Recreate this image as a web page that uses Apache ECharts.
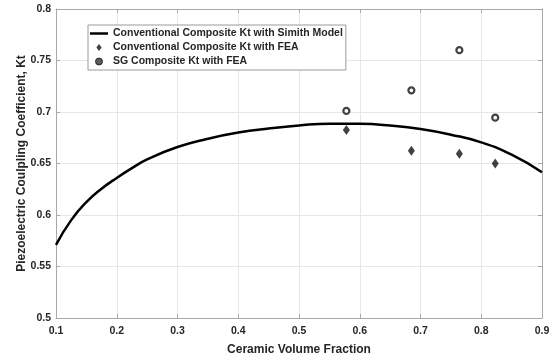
<!DOCTYPE html>
<html>
<head>
<meta charset="utf-8">
<script src="https://cdn.jsdelivr.net/npm/echarts@6/dist/echarts.min.js"></script>
<style>
  html, body { margin: 0; padding: 0; background: #fff; }
  #chart { width: 557px; height: 362px; }
</style>
</head>
<body>
<div id="chart"></div>
<script>
// Smith model curve
const fraction = [0.1, 0.125, 0.15, 0.175, 0.2, 0.225, 0.25, 0.3, 0.35, 0.4, 0.45, 0.5, 0.55, 0.6, 0.65, 0.7, 0.75, 0.8, 0.85, 0.9];
const smithKt = [0.571, 0.595, 0.6125, 0.6255, 0.636, 0.6455, 0.654, 0.666, 0.674, 0.680, 0.684, 0.687, 0.6887, 0.6885, 0.6868, 0.6835, 0.678, 0.6705, 0.6585, 0.6415];

// FEA points
const feaFraction = [0.578, 0.685, 0.764, 0.823];
const conventionalFea = [0.6825, 0.6625, 0.6595, 0.650];
const sgFea = [0.701, 0.721, 0.760, 0.6945];

const names = [
  'Conventional Composite Kt with Simith Model',
  'Conventional Composite Kt with FEA',
  'SG Composite Kt with FEA'
];

const font = 'Arial, "Liberation Sans", sans-serif';
const textColor = '#262626';
const boxColor = '#a8a8a8';

const chart = echarts.init(document.getElementById('chart'));

const xBase = {
  type: 'value', min: 0.1, max: 0.9, interval: 0.1,
  axisLine: { show: true, lineStyle: { color: boxColor, width: 1 } },
  axisTick: { show: true, inside: true, length: 4, lineStyle: { color: boxColor } }
};
const yBase = {
  type: 'value', min: 0.5, max: 0.8, interval: 0.05,
  axisLine: { show: true, lineStyle: { color: boxColor, width: 1 } },
  axisTick: { show: true, inside: true, length: 4, lineStyle: { color: boxColor } }
};

const option = {
  animation: false,
  backgroundColor: '#fff',
  grid: { left: 56, right: 15, top: 9, bottom: 44 },
  legend: {
    orient: 'vertical',
    left: 88, top: 25,
    padding: [3, 3, 3, 2],
    itemGap: 3,
    itemWidth: 18,
    itemHeight: 7,
    borderColor: '#9a9a9a',
    borderWidth: 1,
    backgroundColor: '#fff',
    textStyle: { fontFamily: font, fontWeight: 'bold', fontSize: 10.5, color: textColor },
    data: [
      { name: names[0], icon: 'path://M0,0H18V2.5H0Z' },
      { name: names[1], icon: 'path://M3,0L6,4L3,8L0,4Z' },
      { name: names[2], icon: 'circle', itemStyle: { color: '#333', borderColor: '#111', borderWidth: 1 } }
    ]
  },
  xAxis: [
    Object.assign({}, xBase, {
      position: 'bottom',
      name: 'Ceramic Volume Fraction',
      nameLocation: 'middle',
      nameGap: 26,
      nameMoveOverlap: false,
      nameTextStyle: { fontFamily: font, fontWeight: 'bold', fontSize: 12, color: textColor },
      axisLabel: { margin: 8, fontFamily: font, fontWeight: 'bold', fontSize: 10.5, color: textColor },
      splitLine: { show: true, lineStyle: { color: '#e6e6e6' } }
    }),
    Object.assign({}, xBase, {
      position: 'top',
      axisLabel: { show: false },
      splitLine: { show: false }
    })
  ],
  yAxis: [
    Object.assign({}, yBase, {
      position: 'left',
      name: 'Piezoelectric Coulpling Coefficient, Kt',
      nameLocation: 'middle',
      nameGap: 28,
      nameMoveOverlap: false,
      nameTextStyle: { fontFamily: font, fontWeight: 'bold', fontSize: 12, color: textColor },
      axisLabel: { margin: 5, fontFamily: font, fontWeight: 'bold', fontSize: 10.5, color: textColor },
      splitLine: { show: true, lineStyle: { color: '#e6e6e6' } }
    }),
    Object.assign({}, yBase, {
      position: 'right',
      axisLabel: { show: false },
      splitLine: { show: false }
    })
  ],
  series: [
    {
      name: names[0],
      type: 'line',
      smooth: 0.5,
      symbol: 'none',
      lineStyle: { color: '#000', width: 2.5 },
      itemStyle: { color: '#000' },
      data: fraction.map((f, i) => [f, smithKt[i]]),
      z: 3
    },
    {
      name: names[1],
      type: 'scatter',
      symbol: 'diamond',
      symbolSize: [7, 10],
      itemStyle: { color: '#111' },
      data: feaFraction.map((f, i) => [f, conventionalFea[i]]),
      z: 4
    },
    {
      name: names[2],
      type: 'scatter',
      symbol: 'circle',
      symbolSize: 6,
      itemStyle: { color: '#fff', borderColor: '#111', borderWidth: 2.2 },
      data: feaFraction.map((f, i) => [f, sgFea[i]]),
      z: 4
    }
  ]
};

chart.setOption(option);
</script>
</body>
</html>
